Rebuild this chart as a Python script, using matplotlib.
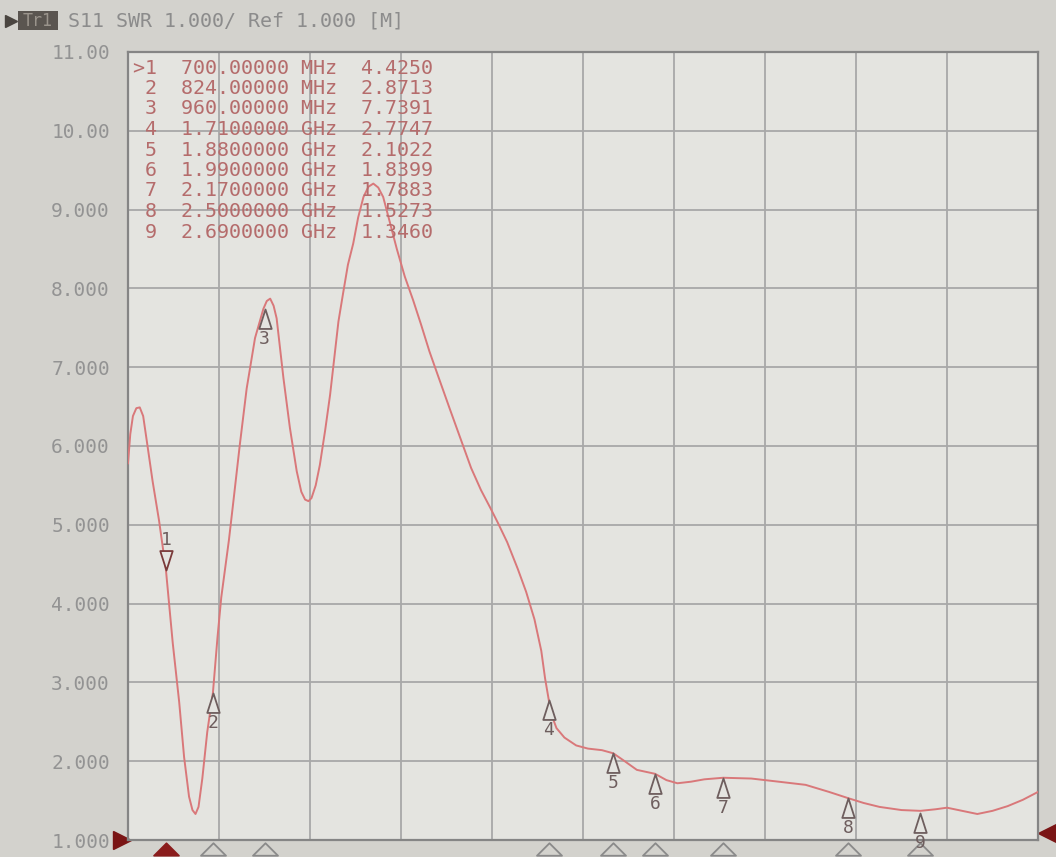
import numpy as np
import matplotlib
matplotlib.use("Agg")
import matplotlib.pyplot as plt
from matplotlib.path import Path
from matplotlib.patches import Rectangle
from matplotlib.lines import Line2D
import matplotlib.transforms as mtransforms

# ---- data ----
freq_mhz = [600, 606, 613, 622, 631, 640, 650, 665, 682, 700, 718, 735, 748,
            761, 770, 778, 786, 796, 809, 824, 836, 846, 866, 878, 895, 913,
            935, 957, 966, 975, 984, 992, 1010, 1027, 1045, 1057, 1067, 1076,
            1084, 1095, 1106, 1120, 1133, 1155, 1167, 1180, 1194, 1207, 1221,
            1234, 1247, 1260, 1273, 1290, 1309, 1330, 1352, 1373, 1395, 1417,
            1448, 1478, 1505, 1531, 1555, 1575, 1600, 1628, 1650, 1672, 1690,
            1700, 1710, 1720, 1730, 1751, 1782, 1813, 1850, 1880, 1910, 1942,
            1990, 2020, 2049, 2085, 2120, 2170, 2244, 2316, 2387, 2449, 2500,
            2540, 2582, 2640, 2690, 2730, 2760, 2800, 2840, 2880, 2920, 2960,
            3000]
swr = [5.78, 6.15, 6.38, 6.48, 6.49, 6.38, 6.05, 5.55, 5.05, 4.43, 3.50, 2.75,
       2.05, 1.55, 1.38, 1.33, 1.42, 1.78, 2.37, 2.87, 3.57, 4.08, 4.80, 5.30,
       6.02, 6.73, 7.37, 7.74, 7.84, 7.87, 7.78, 7.62, 6.86, 6.23, 5.68, 5.42,
       5.32, 5.30, 5.34, 5.50, 5.76, 6.20, 6.65, 7.58, 7.93, 8.30, 8.57, 8.90,
       9.16, 9.29, 9.33, 9.28, 9.16, 8.85, 8.50, 8.15, 7.85, 7.54, 7.20, 6.90,
       6.48, 6.08, 5.72, 5.44, 5.22, 5.03, 4.78, 4.44, 4.15, 3.80, 3.40, 3.05,
       2.77, 2.55, 2.42, 2.30, 2.20, 2.16, 2.14, 2.10, 2.00, 1.89, 1.84, 1.76,
       1.72, 1.74, 1.77, 1.79, 1.78, 1.74, 1.70, 1.61, 1.53, 1.47, 1.42, 1.38,
       1.37, 1.39, 1.41, 1.37, 1.33, 1.37, 1.43, 1.51, 1.61]

marker_ids = ["1", "2", "3", "4", "5", "6", "7", "8", "9"]
marker_freqs = [700, 824, 960, 1710, 1880, 1990, 2170, 2500, 2690]
marker_freq_text = ["700.00000 MHz", "824.00000 MHz", "960.00000 MHz",
                    "1.7100000 GHz", "1.8800000 GHz", "1.9900000 GHz",
                    "2.1700000 GHz", "2.5000000 GHz", "2.6900000 GHz"]
marker_vals = [4.4250, 2.8713, 7.7391, 2.7747, 2.1022, 1.8399, 1.7883, 1.5273, 1.3460]

y_ticks = [1, 2, 3, 4, 5, 6, 7, 8, 9, 10, 11]
y_tick_labels = ["1.000", "2.000", "3.000", "4.000", "5.000", "6.000",
                 "7.000", "8.000", "9.000", "10.00", "11.00"]
header = "S11 SWR 1.000/ Ref 1.000 [M]"

# ---- figure ----
W, H = 1056, 857
fig = plt.figure(figsize=(W / 100, H / 100), dpi=100)
fig.patch.set_facecolor("#d3d2cd")
ax = fig.add_axes([128 / W, 17 / H, 910 / W, 788 / H])
ax.set_facecolor("#e4e4e0")
ax.set_xlim(600, 3000)
ax.set_ylim(1, 11)
ax.set_xticks(np.linspace(600, 3000, 11))
ax.tick_params(axis="x", labelbottom=False)
ax.set_yticks(y_ticks)
ax.set_yticklabels(y_tick_labels, family="DejaVu Sans Mono", fontsize=14,
                   color="#939393")
ax.tick_params(length=0, pad=13)
ax.grid(True, color="#a8a8a8", lw=1.3)
ax.set_axisbelow(True)
for s in ax.spines.values():
    s.set_color("#858585")
    s.set_linewidth(1.6)

# trace
trace_color = "#d9787a"
ax.plot(freq_mhz, swr, color=trace_color, lw=1.4, zorder=3)

# trace markers
up_tri = Path([(0, 0), (-0.32, -1), (0.32, -1), (0, 0)],
              [Path.MOVETO, Path.LINETO, Path.LINETO, Path.CLOSEPOLY])
down_tri = Path([(0, 0), (-0.32, 1), (0.32, 1), (0, 0)],
                [Path.MOVETO, Path.LINETO, Path.LINETO, Path.CLOSEPOLY])
mk_edge = "#6e5e5e"
for i, (mid, f, v) in enumerate(zip(marker_ids, marker_freqs, marker_vals)):
    if i == 0:
        ax.plot([f], [v], marker=down_tri, ms=28, mfc="#e4e4e0", mec="#7a3a3a",
                mew=1.3, ls="none", zorder=4)
        ax.annotate(mid, (f, v), xytext=(0, 30), textcoords="offset pixels",
                    ha="center", va="center", fontsize=13, color=mk_edge,
                    family="DejaVu Sans Mono", zorder=5)
    else:
        ax.plot([f], [v], marker=up_tri, ms=28, mfc="#e4e4e0", mec=mk_edge,
                mew=1.3, ls="none", zorder=4)
        ax.annotate(mid, (f, v), xytext=(0, -30), textcoords="offset pixels",
                    ha="center", va="center", fontsize=13, color=mk_edge,
                    family="DejaVu Sans Mono", zorder=5)

# stimulus triangles under the x axis
blend = mtransforms.blended_transform_factory(ax.transData, ax.transAxes)
flat_tri = Path([(0, 0.5), (-1, -0.5), (1, -0.5), (0, 0.5)],
                [Path.MOVETO, Path.LINETO, Path.LINETO, Path.CLOSEPOLY])
for i, f in enumerate(marker_freqs):
    if i == 0:
        ax.plot([f], [-0.011], marker=flat_tri, ms=18, mfc="#8a1c1c",
                mec="#8a1c1c", mew=1.2, transform=blend, clip_on=False,
                ls="none")
    else:
        ax.plot([f], [-0.011], marker=flat_tri, ms=18, mfc="none",
                mec="#8a8a8a", mew=1.3, transform=blend, clip_on=False,
                ls="none")

# reference pointers
ax.plot([-0.0065], [0.0], marker=">", ms=13, color="#7a1515",
        transform=ax.transAxes, clip_on=False, ls="none")
ax.plot([1.0095], [0.009], marker="<", ms=13, color="#7a1515",
        transform=ax.transAxes, clip_on=False, ls="none")
ax.text(1.0, swr[-1], " 2", transform=blend, ha="left", va="center",
        fontsize=13, color="#e09a98", family="DejaVu Sans Mono", clip_on=False)

# marker table
for i, (mid, ft, v) in enumerate(zip(marker_ids, marker_freq_text, marker_vals)):
    lead = ">" + mid if i == 0 else " " + mid
    line = f"{lead}  {ft:>13s}  {v:.4f}"
    fig.text(133 / W, 1 - (68 + 20.5 * i) / H, line, ha="left", va="center",
             fontsize=14.4, color="#b56c6c", family="DejaVu Sans Mono")

# header
fig.patches.append(Rectangle((18 / W, 1 - 30 / H), 40 / W, 19 / H,
                             transform=fig.transFigure, facecolor="#5a5550",
                             edgecolor="none"))
fig.add_artist(Line2D([11 / W], [1 - 21 / H], marker=">", ms=8, color="#4a4540",
                      ls="none", transform=fig.transFigure))
fig.text(38 / W, 1 - 21 / H, "Tr1", ha="center", va="center", fontsize=12,
         color="#9a948c", family="DejaVu Sans Mono")
fig.text(68 / W, 1 - 21 / H, header, ha="left", va="center", fontsize=14.4,
         color="#8c8c8c", family="DejaVu Sans Mono")

fig.savefig("out.png", dpi=100, facecolor=fig.get_facecolor())
